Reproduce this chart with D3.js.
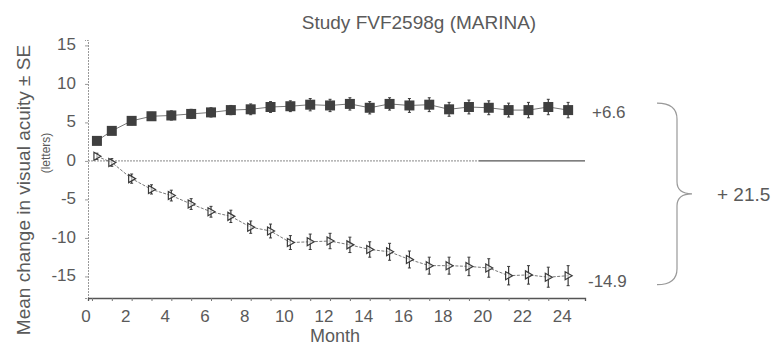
<!DOCTYPE html>
<html>
<head>
<meta charset="utf-8">
<script src="https://cdnjs.cloudflare.com/ajax/libs/d3/7.8.5/d3.min.js"></script>
<style>
	body { margin: 0; background: #fff; }
	svg { display: block; font-family: "Liberation Sans", Arial, sans-serif; }
</style>
</head>
<body>
<div id="chart"></div>
<script>
var months = [ 0.25, 1, 2, 3, 4, 5, 6, 7, 8, 9, 10, 11, 12, 13, 14, 15, 16, 17, 18, 19, 20, 21, 22, 23, 24 ];
var ranibizumab = [ 2.6, 3.9, 5.2, 5.8, 5.9, 6.1, 6.3, 6.6, 6.7, 7.0, 7.1, 7.3, 7.2, 7.4, 6.9, 7.4, 7.2, 7.3, 6.7, 7.0, 6.9, 6.6, 6.6, 7.0, 6.6 ];
var ranibizumabSE = [ 0.3, 0.4, 0.5, 0.5, 0.6, 0.6, 0.6, 0.6, 0.7, 0.7, 0.7, 0.8, 0.8, 0.8, 0.8, 0.8, 0.9, 0.9, 0.9, 0.9, 0.9, 0.9, 1.0, 1.0, 1.0 ];
var sham = [ 0.6, -0.2, -2.3, -3.7, -4.5, -5.6, -6.6, -7.2, -8.6, -9.1, -10.6, -10.5, -10.4, -10.9, -11.5, -11.8, -12.8, -13.6, -13.6, -13.7, -13.9, -14.9, -14.8, -15.1, -14.9 ];
var shamSE = [ 0.4, 0.5, 0.6, 0.6, 0.7, 0.7, 0.7, 0.8, 0.8, 0.9, 0.9, 1.0, 1.0, 1.0, 1.0, 1.1, 1.1, 1.1, 1.1, 1.2, 1.2, 1.2, 1.2, 1.3, 1.3 ];
var xTicks = [ 0, 2, 4, 6, 8, 10, 12, 14, 16, 18, 20, 22, 24 ];
var yTicks = [ -15, -10, -5, 0, 5, 10, 15 ];
var endLabels = [ "+6.6", "-14.9" ];
var diffLabel = "+ 21.5";

var width = 779;
var height = 348;
var ink = "#3a3a3a";
var textColor = "#5a5a5a";

var svg = d3.select( "#chart" ).append( "svg" )
	.attr( "width", width )
	.attr( "height", height );

var x = d3.scaleLinear().domain( [ -0.2, 24.85 ] ).range( [ 88, 585 ] );
var y = d3.scaleLinear().domain( [ -17.8, 15.7 ] ).range( [ 298, 40 ] );

var toRows = function( values, se )
{
	return values.map( function( v, i ) { return { m: months[ i ], v: v, se: se[ i ] }; } );
};

var upper = toRows( ranibizumab, ranibizumabSE );
var lower = toRows( sham, shamSE );

// Title
//
svg.append( "text" )
	.attr( "x", 419 )
	.attr( "y", 29 )
	.attr( "text-anchor", "middle" )
	.attr( "font-size", 19 )
	.attr( "fill", textColor )
	.text( "Study FVF2598g (MARINA)" );

// Axes
//
var yAxis = svg.append( "g" )
	.attr( "transform", "translate(" + x.range()[ 0 ] + ",0)" )
	.call( d3.axisLeft( y ).tickValues( yTicks ).tickSize( 3 ).tickFormat( function( d ) { return String( d ); } ) );
yAxis.select( ".domain" ).attr( "stroke", "#999" ).attr( "stroke-dasharray", "2,1" );
yAxis.selectAll( ".tick line" ).attr( "stroke", "#999" );
yAxis.selectAll( ".tick text" )
	.attr( "x", -12 )
	.attr( "dy", "0.25em" )
	.attr( "font-size", 17 )
	.attr( "font-family", "Liberation Sans, Arial, sans-serif" )
	.attr( "fill", textColor );

var xAxis = svg.append( "g" )
	.attr( "transform", "translate(0," + y.range()[ 0 ] + ")" )
	.call( d3.axisBottom( x ).tickValues( d3.range( 0, 25, 1 ) ).tickSize( 3 ).tickFormat( "" ) );
xAxis.select( ".domain" ).attr( "stroke", "#555" ).attr( "stroke-width", 1.3 );
xAxis.selectAll( ".tick line" ).attr( "stroke", "#777" );

svg.append( "g" )
	.selectAll( "text" )
	.data( xTicks )
	.enter()
	.append( "text" )
	.attr( "x", function( d ) { return x( d ) - 6; } )
	.attr( "y", 322 )
	.attr( "text-anchor", "middle" )
	.attr( "font-size", 17 )
	.attr( "fill", textColor )
	.text( function( d ) { return d; } );

svg.append( "text" )
	.attr( "x", 335 )
	.attr( "y", 342 )
	.attr( "text-anchor", "middle" )
	.attr( "font-size", 18 )
	.attr( "fill", textColor )
	.text( "Month" );

svg.append( "text" )
	.attr( "transform", "translate(30,190) rotate(-90)" )
	.attr( "text-anchor", "middle" )
	.attr( "font-size", 19 )
	.attr( "fill", textColor )
	.text( "Mean change in visual acuity \u00b1 SE" );

svg.append( "text" )
	.attr( "transform", "translate(50,153) rotate(-90)" )
	.attr( "text-anchor", "middle" )
	.attr( "font-size", 12 )
	.attr( "fill", textColor )
	.text( "(letters)" );

// Zero line: faint dotted on the left, solid toward the right (as in the scan)
//
var zeroSplit = 19.5;
svg.append( "line" )
	.attr( "x1", x.range()[ 0 ] )
	.attr( "x2", x( zeroSplit ) )
	.attr( "y1", y( 0 ) )
	.attr( "y2", y( 0 ) )
	.attr( "stroke", "#888" )
	.attr( "stroke-dasharray", "2,1" )
	.attr( "stroke-width", 1 );
svg.append( "line" )
	.attr( "x1", x( zeroSplit ) )
	.attr( "x2", x.range()[ 1 ] )
	.attr( "y1", y( 0 ) )
	.attr( "y2", y( 0 ) )
	.attr( "stroke", "#555" )
	.attr( "stroke-width", 1.3 );

// Series
//
var line = d3.line()
	.x( function( d ) { return x( d.m ); } )
	.y( function( d ) { return y( d.v ); } );

var drawSeries = function( rows, dashed )
{
	var g = svg.append( "g" );

	g.append( "path" )
		.datum( rows )
		.attr( "d", line )
		.attr( "fill", "none" )
		.attr( "stroke", "#777" )
		.attr( "stroke-width", 1 )
		.attr( "stroke-dasharray", dashed ? "3,1.5" : null );

	var pts = g.selectAll( "g.pt" )
		.data( rows )
		.enter()
		.append( "g" )
		.attr( "class", "pt" )
		.attr( "transform", function( d ) { return "translate(" + x( d.m ) + ",0)"; } );

	pts.append( "line" )
		.attr( "y1", function( d ) { return y( d.v + d.se ); } )
		.attr( "y2", function( d ) { return y( d.v - d.se ); } )
		.attr( "stroke", ink )
		.attr( "stroke-width", 1.2 );

	pts.selectAll( "line.cap" )
		.data( function( d ) { return [ d.v + d.se, d.v - d.se ]; } )
		.enter()
		.append( "line" )
		.attr( "class", "cap" )
		.attr( "x1", -1.5 )
		.attr( "x2", 1.5 )
		.attr( "y1", function( v ) { return y( v ); } )
		.attr( "y2", function( v ) { return y( v ); } )
		.attr( "stroke", ink );

	return pts;
};

var upperPts = drawSeries( upper, false );
upperPts.append( "rect" )
	.attr( "x", -5 )
	.attr( "y", function( d ) { return y( d.v ) - 5; } )
	.attr( "width", 10 )
	.attr( "height", 10 )
	.attr( "fill", "#3f3f3f" );

var lowerPts = drawSeries( lower, true );
lowerPts.append( "path" )
	.attr( "d", function( d ) { var c = y( d.v ); return "M-3," + ( c - 4 ) + "L4," + c + "L-3," + ( c + 4 ) + "Z"; } )
	.attr( "fill", "#fff" )
	.attr( "fill-opacity", 0.6 )
	.attr( "stroke", ink )
	.attr( "stroke-width", 1.2 );

// End labels and brace
//
var lastUp = ranibizumab[ ranibizumab.length - 1 ];
var lastLow = sham[ sham.length - 1 ];

svg.append( "text" )
	.attr( "x", 592 )
	.attr( "y", y( lastUp ) + 8 )
	.attr( "font-size", 17 )
	.attr( "fill", textColor )
	.text( endLabels[ 0 ] );

svg.append( "text" )
	.attr( "x", 588 )
	.attr( "y", y( lastLow ) + 11 )
	.attr( "font-size", 17 )
	.attr( "fill", textColor )
	.text( endLabels[ 1 ] );

var bTop = y( lastUp ) - 7;
var bBot = y( lastLow ) + 9;
var bMid = ( bTop + bBot ) / 2;
var bx0 = 657, bx1 = 677, bTip = 692;

svg.append( "path" )
	.attr( "d",
		"M" + bx0 + "," + bTop +
		"Q" + bx1 + "," + bTop + " " + bx1 + "," + ( bTop + 16 ) +
		"L" + bx1 + "," + ( bMid - 12 ) +
		"Q" + bx1 + "," + bMid + " " + bTip + "," + bMid +
		"Q" + bx1 + "," + bMid + " " + bx1 + "," + ( bMid + 12 ) +
		"L" + bx1 + "," + ( bBot - 16 ) +
		"Q" + bx1 + "," + bBot + " " + bx0 + "," + bBot )
	.attr( "fill", "none" )
	.attr( "stroke", "#999" )
	.attr( "stroke-width", 1.2 );

svg.append( "text" )
	.attr( "x", 717 )
	.attr( "y", bMid + 7 )
	.attr( "font-size", 19 )
	.attr( "fill", textColor )
	.text( diffLabel );
</script>
</body>
</html>
